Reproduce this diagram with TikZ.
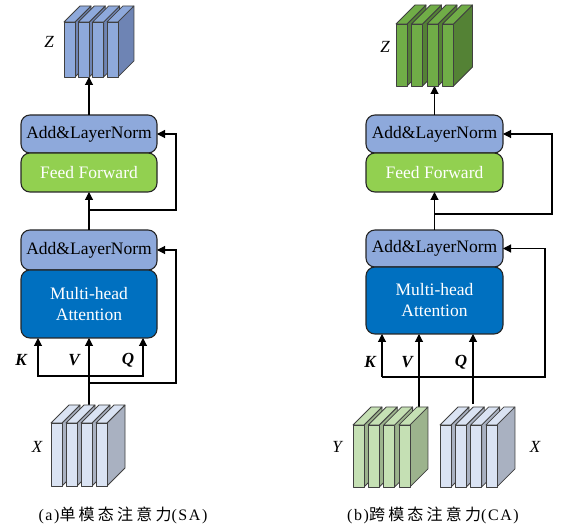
\documentclass[tikz,border=0pt]{standalone}
\usepackage{fontspec}
\setmainfont{Liberation Serif}
\newfontfamily\cjk[LetterSpace=20]{Noto Sans CJK SC}
\newfontfamily\capfont[LetterSpace=10]{Liberation Serif}
\usepackage{tikz}
\usetikzlibrary{arrows.meta}
\usepackage{xcolor}
\definecolor{normblue}{HTML}{8EA9DB}
\definecolor{ffgreen}{HTML}{92D050}
\definecolor{mhablue}{HTML}{0070C0}
\definecolor{zside}{HTML}{6E84B4}
\definecolor{zgreen}{HTML}{70AD47}
\definecolor{zgreenside}{HTML}{548235}
\definecolor{xfront}{HTML}{DAE3F3}
\definecolor{xside}{HTML}{A9B1C1}
\definecolor{yfront}{HTML}{C5E0B4}
\definecolor{yside}{HTML}{9CB38D}

% stack of four slabs: x, top, height, step, depth, front colour, side colour
\newcommand{\slabstack}[7]{%
  \foreach \i in {0,...,3}{
    \pgfmathsetmacro{\sx}{#1+\i*#4}
    \draw[slab, fill=#7] (\sx+11,#2) -- ++(#5,-#5) -- ++(0,#3) -- ++(-#5,#5) -- cycle;
    \draw[slab, fill=#6] (\sx,#2) -- ++(#5,-#5) -- ++(11,0) -- ++(-#5,#5) -- cycle;
    \draw[slab, fill=#6] (\sx,#2) rectangle ++(11,#3);
  }}

\begin{document}
\begin{tikzpicture}[x=1pt, y=-1pt, every node/.style={font=\fontsize{17.5}{21}\selectfont}]
\tikzset{block/.style={draw=black!85, line width=1.1pt, rounded corners=9pt, inner sep=0pt, outer sep=0pt, align=center}}
\tikzset{norm/.style={block, fill=normblue, minimum width=136pt}}
\tikzset{ffbox/.style={block, fill=ffgreen, text=white, minimum width=136pt, minimum height=39pt}}
\tikzset{mha/.style={block, fill=mhablue, text=white, minimum width=136pt}}
\tikzset{arr/.style={line width=1.1pt, -{Triangle[length=8pt,width=8pt]}}}
\tikzset{slab/.style={draw=black!75, line width=0.8pt, line join=round}}
\tikzset{vec/.style={font=\fontsize{17}{20}\selectfont\bfseries\itshape}}
\tikzset{mat/.style={font=\fontsize{17}{20}\selectfont\itshape}}
\useasboundingbox (0,0) rectangle (568,529);

% (a) self-attention
\node[norm, minimum height=38pt] (add1) at (89,134) {Add\&LayerNorm};
\node[ffbox] (ff1) at (89,172.5) {Feed Forward};
\node[norm, minimum height=40pt] (add2) at (89,250) {Add\&LayerNorm};
\node[mha, minimum height=68pt] (mha1) at (89,304) {Multi-head\\Attention};
\coordinate (zla) at (89,77);
\coordinate (xla) at (89,406);
\coordinate (rl1) at (89,210);
\coordinate (rl2) at (89,383);
\coordinate (kql) at (89,376);
\draw[arr] (add1.north) -- (zla);
\draw[arr] (add2.north) -- (ff1.south);
\draw[arr] (rl1) -- ++(87,0) |- (add1.east);
\draw[arr] (xla) -- (mha1.south);
\draw[arr] (kql) -| ([xshift=17pt]mha1.south west);
\draw[arr] (kql) -| ([xshift=-14pt]mha1.south east);
\draw[arr] (rl2) -- ++(87,0) |- (add2.east);
\node[vec] (kl) at (21,360) {K};
\node[vec] (vl) at (74,360) {V};
\node[vec] (ql) at (128,360) {Q};
\slabstack{64}{22}{55}{14.3}{16}{normblue}{zside}
\slabstack{51}{423}{63}{15}{18}{xfront}{xside}
\node[mat] (zl) at (49,42) {Z};
\node[mat] (xl) at (37,447) {X};
\node (capa) at (123,515) {\fontsize{16}{20}\selectfont\capfont (a)\cjk 单模态注意力\capfont (SA)};

% (b) cross-attention
\node[norm, minimum width=137pt, minimum height=38pt] (add3) at (434.5,134) {Add\&LayerNorm};
\node[ffbox, minimum width=137pt] (ff2) at (434.5,172.5) {Feed Forward};
\node[norm, minimum width=137pt, minimum height=37pt] (add4) at (434.5,248.5) {Add\&LayerNorm};
\node[mha, minimum width=137pt, minimum height=67pt] (mha2) at (434.5,300.5) {Multi-head\\Attention};
\coordinate (zra) at (434.5,86);
\coordinate (rr1) at (434.5,214);
\coordinate (ya) at (419,407);
\coordinate (xra) at (473,404);
\coordinate (kr) at (382,377);
\draw[arr] (add3.north) -- (zra);
\draw[arr] (add4.north) -- (ff2.south);
\draw[arr] (rr1) -- ++(117.5,0) |- (add3.east);
\draw[arr] (ya) -- (ya |- mha2.south);
\draw[arr] (xra) -- (xra |- mha2.south);
\draw[arr] (kr) -- (kr |- mha2.south);
\draw[arr] (kr) -- ++(163,0) |- (add4.east);
\node[vec] (kr2) at (370,362) {K};
\node[vec] (vr) at (407,362) {V};
\node[vec] (qr) at (461,362) {Q};
\slabstack{396}{24}{62}{15.5}{19}{zgreen}{zgreenside}
\slabstack{353}{425}{62}{15.3}{18}{yfront}{yside}
\slabstack{440}{425}{62}{15.3}{18}{xfront}{xside}
\node[mat] (zr) at (385,47) {Z};
\node[mat] (yr) at (337,447) {Y};
\node[mat] (xr) at (535,447) {X};
\node (capb) at (433,515) {\fontsize{16}{20}\selectfont\capfont (b)\cjk 跨模态注意力\capfont (CA)};
\end{tikzpicture}
\end{document}
